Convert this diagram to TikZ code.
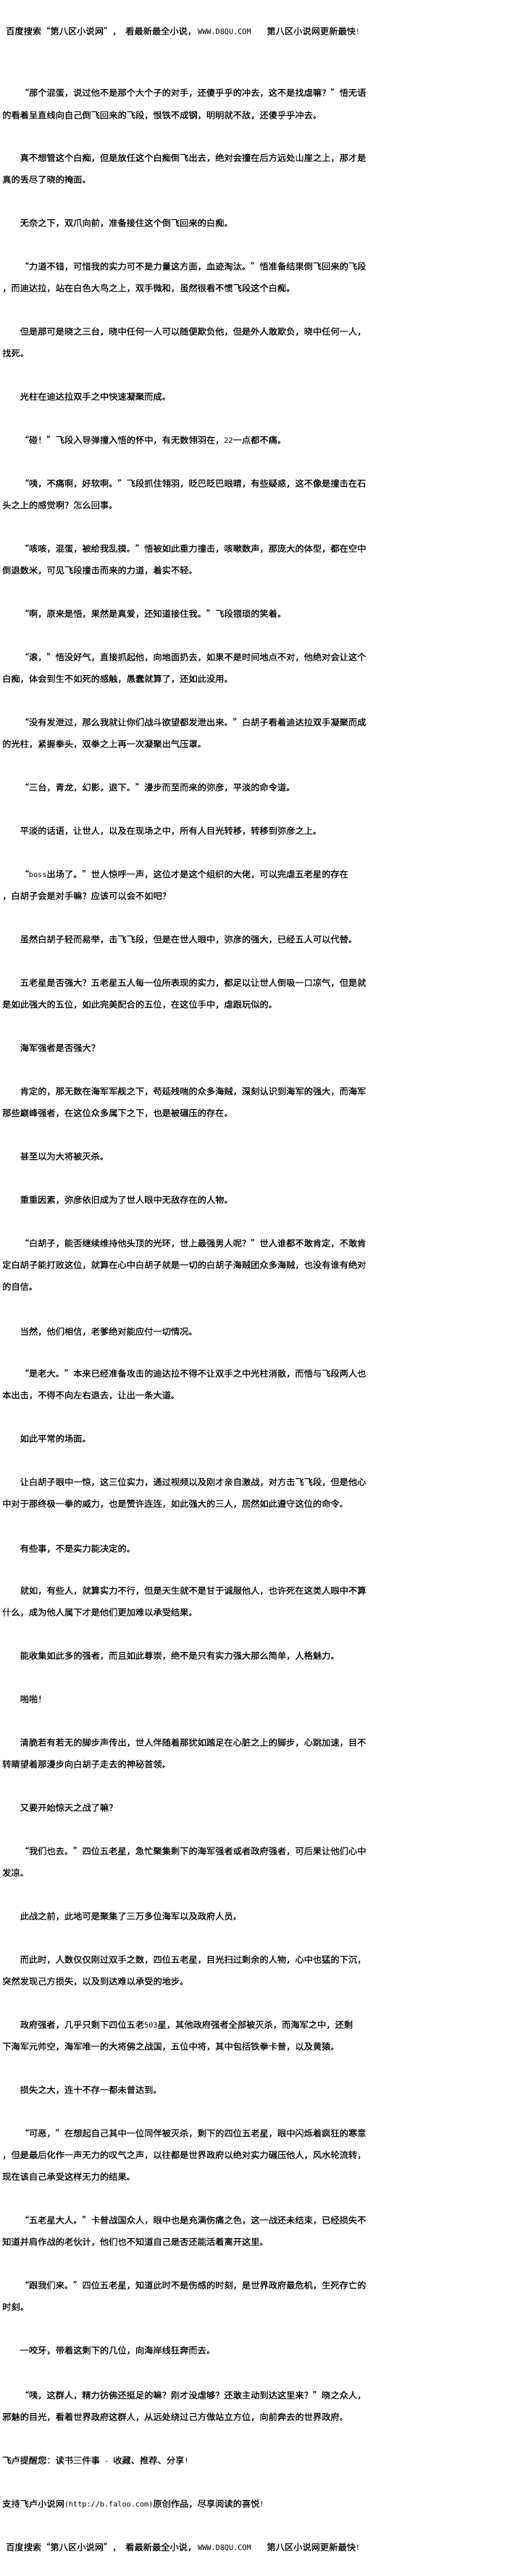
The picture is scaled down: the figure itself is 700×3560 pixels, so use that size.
\documentclass[tikz,border=0pt]{standalone}
\usepackage{fontspec}
\newfontfamily\cjkfnt[RawFeature={embolden=0.35}]{Noto Sans CJK SC}
\newfontfamily\ascfnt{DejaVu Sans Mono}
\newcommand\QO{\makebox[1em][r]{“}}
\newcommand\QC{\makebox[1em][r]{”}}
\newcommand\asc[1]{{\ascfnt\fontsize{10.17pt}{12pt}\selectfont #1}}
\tikzset{txt/.style={anchor=west, inner sep=0pt, text height=10.7pt, text depth=1.55pt, font=\cjkfnt\fontsize{12.25pt}{14pt}\selectfont}}
\begin{document}
\begin{tikzpicture}[x=1pt,y=-1pt]
\fill[white] (0,0) rectangle (700,3560);
\useasboundingbox (0,0) rectangle (700,3560);
\node[txt] (hd) at (8,43) {百度搜索\QO{}第八区小说网\QC{}，\hspace{5.75pt}看最新最全小说，\hspace{2pt}\asc{WWW.D8QU.COM}\hspace{21.8pt}第八区小说网更新最快\asc{!}};
\node[txt] (l1) at (27.5,128) {\QO{}那个混蛋，说过他不是那个大个子的对手，还傻乎乎的冲去，这不是找虐嘛？\QC{}悟无语};
\node[txt] (l2) at (3,159) {的看着呈直线向自己倒飞回来的飞段，恨铁不成钢，明明就不敌，还傻乎乎冲去。};
\node[txt] (l3) at (27.5,218) {真不想管这个白痴，但是放任这个白痴倒飞出去，绝对会撞在后方远处山崖之上，那才是};
\node[txt] (l4) at (3,248) {真的丢尽了晓的掩面。};
\node[txt] (l5) at (27.5,308) {无奈之下，双爪向前，准备接住这个倒飞回来的白痴。};
\node[txt] (l6) at (27.5,368) {\QO{}力道不错，可惜我的实力可不是力量这方面，血迹淘汰。\QC{}悟准备结果倒飞回来的飞段};
\node[txt] (l7) at (3,398) {，而迪达拉，站在白色大鸟之上，双手微和，虽然很看不惯飞段这个白痴。};
\node[txt] (l8) at (27.5,458) {但是那可是晓之三台，晓中任何一人可以随便欺负他，但是外人敢欺负，晓中任何一人，};
\node[txt] (l9) at (3,488) {找死。};
\node[txt] (l10) at (27.5,548) {光柱在迪达拉双手之中快速凝聚而成。};
\node[txt] (l11) at (27.5,608) {\QO{}碰！\QC{}飞段入导弹撞入悟的怀中，有无数翎羽在，\asc{22}一点都不痛。};
\node[txt] (l12) at (27.5,668) {\QO{}咦，不痛啊，好软啊。\QC{}飞段抓住翎羽，眨巴眨巴眼睛，有些疑惑，这不像是撞击在石};
\node[txt] (l13) at (3,698) {头之上的感觉啊？怎么回事。};
\node[txt] (l14) at (27.5,758) {\QO{}咳咳，混蛋，被给我乱摸。\QC{}悟被如此重力撞击，咳嗽数声，那庞大的体型，都在空中};
\node[txt] (l15) at (3,788) {倒退数米，可见飞段撞击而来的力道，着实不轻。};
\node[txt] (l16) at (27.5,848) {\QO{}啊，原来是悟，果然是真爱，还知道接住我。\QC{}飞段猥琐的笑着。};
\node[txt] (l17) at (27.5,908) {\QO{}滚，\QC{}悟没好气，直接抓起他，向地面扔去，如果不是时间地点不对，他绝对会让这个};
\node[txt] (l18) at (3,938) {白痴，体会到生不如死的感触，愚蠢就算了，还如此没用。};
\node[txt] (l19) at (27.5,998) {\QO{}没有发泄过，那么我就让你们战斗欲望都发泄出来。\QC{}白胡子看着迪达拉双手凝聚而成};
\node[txt] (l20) at (3,1028) {的光柱，紧握拳头，双拳之上再一次凝聚出气压罩。};
\node[txt] (l21) at (27.5,1088) {\QO{}三台，青龙，幻影，退下。\QC{}漫步而至而来的弥彦，平淡的命令道。};
\node[txt] (l22) at (27.5,1148) {平淡的话语，让世人，以及在现场之中，所有人目光转移，转移到弥彦之上。};
\node[txt] (l23) at (27.5,1208) {\QO{}\asc{boss}出场了。\QC{}世人惊呼一声，这位才是这个组织的大佬，可以完虐五老星的存在};
\node[txt] (l24) at (3,1238) {，白胡子会是对手嘛？应该可以会不如吧？};
\node[txt] (l25) at (27.5,1298) {虽然白胡子轻而易举，击飞飞段，但是在世人眼中，弥彦的强大，已经五人可以代替。};
\node[txt] (l26) at (27.5,1358) {五老星是否强大？五老星五人每一位所表现的实力，都足以让世人倒吸一口凉气，但是就};
\node[txt] (l27) at (3,1388) {是如此强大的五位，如此完美配合的五位，在这位手中，虐跟玩似的。};
\node[txt] (l28) at (27.5,1448) {海军强者是否强大？};
\node[txt] (l29) at (27.5,1508) {肯定的，那无数在海军军舰之下，苟延残喘的众多海贼，深刻认识到海军的强大，而海军};
\node[txt] (l30) at (3,1538) {那些巅峰强者，在这位众多属下之下，也是被碾压的存在。};
\node[txt] (l31) at (27.5,1598) {甚至以为大将被灭杀。};
\node[txt] (l32) at (27.5,1658) {重重因素，弥彦依旧成为了世人眼中无敌存在的人物。};
\node[txt] (l33) at (27.5,1718) {\QO{}白胡子，能否继续维持他头顶的光环，世上最强男人呢？\QC{}世人谁都不敢肯定，不敢肯};
\node[txt] (l34) at (3,1748) {定白胡子能打败这位，就算在心中白胡子就是一切的白胡子海贼团众多海贼，也没有谁有绝对};
\node[txt] (l35) at (3,1778) {的自信。};
\node[txt] (l36) at (27.5,1840) {当然，他们相信，老爹绝对能应付一切情况。};
\node[txt] (l37) at (27.5,1898) {\QO{}是老大。\QC{}本来已经准备攻击的迪达拉不得不让双手之中光柱消散，而悟与飞段两人也};
\node[txt] (l38) at (3,1928) {本出击，不得不向左右退去，让出一条大道。};
\node[txt] (l39) at (27.5,1988) {如此平常的场面。};
\node[txt] (l40) at (27.5,2048) {让白胡子眼中一惊，这三位实力，通过视频以及刚才亲自激战，对方击飞飞段，但是他心};
\node[txt] (l41) at (3,2078) {中对于那终极一拳的威力，也是赞许连连，如此强大的三人，居然如此遵守这位的命令。};
\node[txt] (l42) at (27.5,2140) {有些事，不是实力能决定的。};
\node[txt] (l43) at (27.5,2198) {就如，有些人，就算实力不行，但是天生就不是甘于诚服他人，也许死在这类人眼中不算};
\node[txt] (l44) at (3,2228) {什么，成为他人属下才是他们更加难以承受结果。};
\node[txt] (l45) at (27.5,2288) {能收集如此多的强者，而且如此尊崇，绝不是只有实力强大那么简单，人格魅力。};
\node[txt] (l46) at (27.5,2348) {啪啪！};
\node[txt] (l47) at (27.5,2408) {清脆若有若无的脚步声传出，世人伴随着那犹如踏足在心脏之上的脚步，心跳加速，目不};
\node[txt] (l48) at (3,2438) {转睛望着那漫步向白胡子走去的神秘首领。};
\node[txt] (l49) at (27.5,2498) {又要开始惊天之战了嘛？};
\node[txt] (l50) at (27.5,2558) {\QO{}我们也去。\QC{}四位五老星，急忙聚集剩下的海军强者或者政府强者，可后果让他们心中};
\node[txt] (l51) at (3,2588) {发凉。};
\node[txt] (l52) at (27.5,2648) {此战之前，此地可是聚集了三万多位海军以及政府人员。};
\node[txt] (l53) at (27.5,2708) {而此时，人数仅仅刚过双手之数，四位五老星，目光扫过剩余的人物，心中也猛的下沉，};
\node[txt] (l54) at (3,2738) {突然发现己方损失，以及到达难以承受的地步。};
\node[txt] (l55) at (27.5,2798) {政府强者，几乎只剩下四位五老\asc{503}星，其他政府强者全部被灭杀，而海军之中，还剩};
\node[txt] (l56) at (3,2828) {下海军元帅空，海军唯一的大将佛之战国，五位中将，其中包括铁拳卡普，以及黄猿。};
\node[txt] (l57) at (27.5,2888) {损失之大，连十不存一都未曾达到。};
\node[txt] (l58) at (27.5,2948) {\QO{}可恶，\QC{}在想起自己其中一位同伴被灭杀，剩下的四位五老星，眼中闪烁着疯狂的寒意};
\node[txt] (l59) at (3,2978) {，但是最后化作一声无力的叹气之声，以往都是世界政府以绝对实力碾压他人，风水轮流转，};
\node[txt] (l60) at (3,3008) {现在该自己承受这样无力的结果。};
\node[txt] (l61) at (27.5,3068) {\QO{}五老星大人。\QC{}卡普战国众人，眼中也是充满伤痛之色，这一战还未结束，已经损失不};
\node[txt] (l62) at (3,3098) {知道并肩作战的老伙计，他们也不知道自己是否还能活着离开这里。};
\node[txt] (l63) at (27.5,3158) {\QO{}跟我们来。\QC{}四位五老星，知道此时不是伤感的时刻，是世界政府最危机，生死存亡的};
\node[txt] (l64) at (3,3188) {时刻。};
\node[txt] (l65) at (27.5,3248) {一咬牙，带着这剩下的几位，向海岸线狂奔而去。};
\node[txt] (l66) at (27.5,3310) {\QO{}咦，这群人，精力彷佛还挺足的嘛？刚才没虐够？还敢主动到达这里来？\QC{}晓之众人，};
\node[txt] (l67) at (3,3340) {邪魅的目光，看着世界政府这群人，从远处绕过己方做站立方位，向前奔去的世界政府。};
\node[txt] (l68) at (3,3400) {飞卢提醒您：读书三件事\asc{\ -\ }收藏、推荐、分享\asc{!}};
\node[txt] (l69) at (3,3460) {支持飞卢小说网\asc{(http://b.faloo.com)}原创作品，尽享阅读的喜悦\asc{!}};
\node[txt] (ft) at (8,3520) {百度搜索\QO{}第八区小说网\QC{}，\hspace{5.75pt}看最新最全小说，\hspace{2pt}\asc{WWW.D8QU.COM}\hspace{21.8pt}第八区小说网更新最快\asc{!}};
\end{tikzpicture}
\end{document}
